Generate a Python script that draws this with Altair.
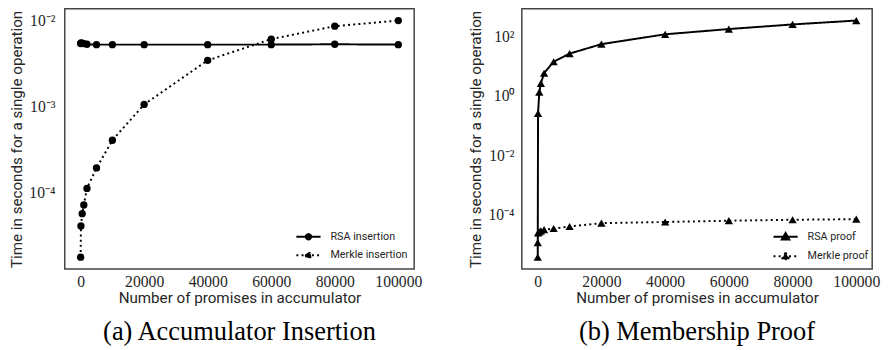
import math
import altair as alt
import pandas as pd

# ---- data ----
promises = [10, 100, 500, 1000, 2000, 5000, 10000, 20000, 40000, 60000, 80000, 100000]

rsa_insertion = [5.4e-3, 5.5e-3, 5.45e-3, 5.4e-3, 5.3e-3, 5.25e-3, 5.25e-3,
                 5.25e-3, 5.25e-3, 5.25e-3, 5.3e-3, 5.25e-3]
merkle_insertion = [1.78e-5, 4.1e-5, 5.7e-5, 7.2e-5, 1.12e-4, 1.94e-4, 4.07e-4,
                    1.06e-3, 3.45e-3, 6.08e-3, 8.6e-3, 1.0e-2]

rsa_proof = [3.8e-6, 0.26, 1.34, 2.65, 5.8, 14.1, 26.5, 55.0, 118.0, 177.0, 253.0, 342.0]
merkle_proof = [1.17e-5, 2.5e-5, 2.7e-5, 2.9e-5, 3.2e-5, 3.5e-5, 4.1e-5,
                5.3e-5, 5.8e-5, 6.4e-5, 6.9e-5, 7.2e-5]

x_ticks = [0, 20000, 40000, 60000, 80000, 100000]
y_ticks_a = [1e-4, 1e-3, 1e-2]
y_ticks_b = [1e-4, 1e-2, 1e0, 1e2]

labels_a = ["RSA insertion", "Merkle insertion"]
labels_b = ["RSA proof", "Merkle proof"]
caption_a = "(a) Accumulator Insertion"
caption_b = "(b) Membership Proof"
x_title = "Number of promises in accumulator"
y_title = "Time in seconds for a single operation"

SERIF = "Liberation Serif"
SANS = "Roboto"

sup_expr = ("'10' + replace(replace(replace(replace(replace(replace("
            "toString(round(log(datum.value)/LN10)),'-','⁻'),'0','⁰'),'1','¹'),"
            "'2','²'),'3','³'),'4','⁴')")

# legend symbols: a short line with the marker in its middle
CIRCLE_PATH = ("M-1.9,0L1.9,0M-0.42,0A0.42,0.42,0,1,0,0.42,0"
               "A0.42,0.42,0,1,0,-0.42,0Z")
TRI_PATH = "M-1.9,0L1.9,0M0,-0.6L0.6,0.45L-0.6,0.45Z"


def panel(series_a, series_b, labels, sym_path, shape, pt_size, yticks, caption,
          width, legend_x, legend_y, label_pad):
    df = pd.DataFrame({
        "n": promises + promises,
        "t": series_a + series_b,
        "series": [labels[0]] * len(promises) + [labels[1]] * len(promises),
    })
    vals = series_a + series_b
    lo, hi = math.log10(min(vals)), math.log10(max(vals))
    m = 0.05 * (hi - lo)
    ydom = [10 ** (lo - m), 10 ** (hi + m)]

    x = alt.X("n:Q",
              scale=alt.Scale(domain=[-4990, 104990], nice=False, zero=False),
              axis=alt.Axis(values=x_ticks, format="d", title=x_title,
                            labelPadding=5, titlePadding=1))
    y = alt.Y("t:Q",
              scale=alt.Scale(type="log", domain=ydom, nice=False),
              axis=alt.Axis(values=yticks, labelExpr=sup_expr, title=y_title,
                            labelPadding=label_pad, titlePadding=5))

    line = alt.Chart(df).mark_line(color="black", strokeWidth=2).encode(
        x=x, y=y,
        strokeDash=alt.StrokeDash(
            "series:N",
            scale=alt.Scale(domain=labels, range=[[1, 0], [2, 3.3]]),
            legend=alt.Legend(
                title=None, orient="none", legendX=legend_x, legendY=legend_y,
                symbolType=sym_path, symbolSize=169,
                symbolFillColor="black", symbolStrokeColor="black",
                symbolStrokeWidth=2, labelFont=SANS, labelFontSize=11,
                labelColor="#262626", padding=0, rowPadding=4, labelOffset=15,
            ),
        ),
    )
    pts = alt.Chart(df).mark_point(filled=True, shape=shape, size=pt_size,
                                   color="black", opacity=1).encode(
        x=x, y=y, detail="series:N")

    return alt.layer(line, pts).properties(
        width=width, height=266,
        title=alt.TitleParams(caption, orient="bottom", font=SERIF,
                              fontSize=27, fontWeight="normal",
                              color="black", offset=14),
    )


left = panel(rsa_insertion, merkle_insertion, labels_a, CIRCLE_PATH, "circle", 56,
             y_ticks_a, caption_a, 357, 241.5, 225.5, 10)
right = panel(rsa_proof, merkle_proof, labels_b, TRI_PATH, "triangle-up", 72,
              y_ticks_b, caption_b, 358, 262, 225.5, 8)

chart = alt.hconcat(left, right, spacing=45).resolve_scale(
    strokeDash="independent"
).resolve_legend(
    strokeDash="independent"
).properties(
    padding={"left": 0, "top": -4, "right": 0, "bottom": 0}
).configure_view(
    stroke="#444", strokeWidth=1.5
).configure_axis(
    grid=False, domain=False, ticks=False,
    labelFont=SERIF, labelFontSize=16, labelColor="#262626",
    titleFont=SANS, titleFontSize=15.5, titleFontWeight="normal",
    titleColor="#262626",
)

chart.save("out.html", embed_options={"renderer": "svg", "actions": False})
